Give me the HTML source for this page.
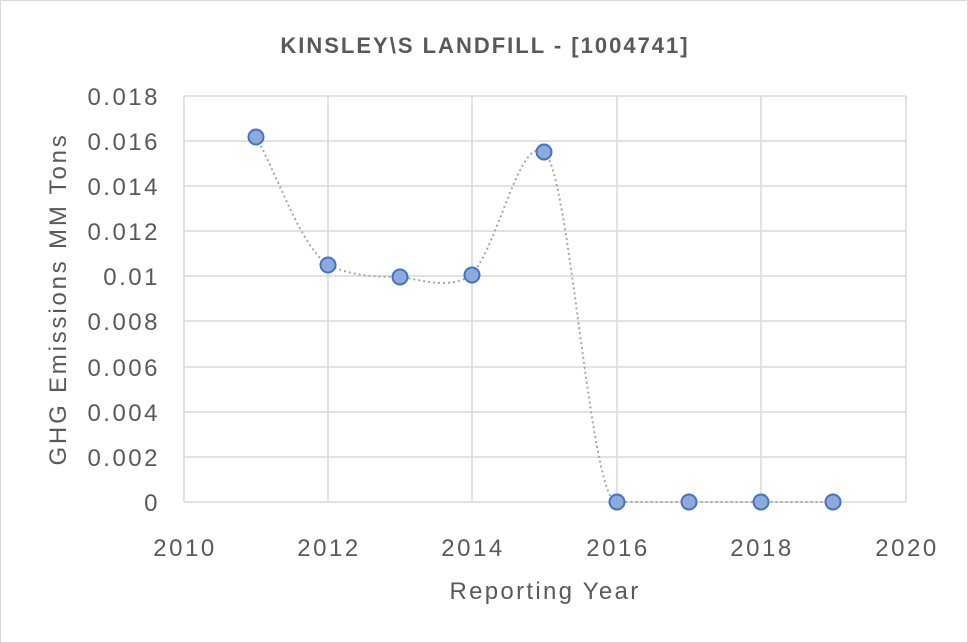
<!DOCTYPE html>
<html><head><meta charset="utf-8"><style>
body{margin:0;background:#fff}
svg{display:block}
text{font-family:"Liberation Sans",sans-serif;fill:#595959}
</style></head><body>
<svg width="968" height="643" viewBox="0 0 968 643">
<rect x="0.5" y="0.5" width="967" height="642" fill="#fff" stroke="#d9d9d9"/>
<text x="485" y="53" text-anchor="middle" font-size="22" font-weight="bold" letter-spacing="2">KINSLEY\S LANDFILL - [1004741]</text>
<g stroke="#d9d9d9" stroke-width="1.5">
<line x1="184" y1="96" x2="906" y2="96"/><line x1="184" y1="141" x2="906" y2="141"/>
<line x1="184" y1="186" x2="906" y2="186"/><line x1="184" y1="231" x2="906" y2="231"/>
<line x1="184" y1="276" x2="906" y2="276"/><line x1="184" y1="321" x2="906" y2="321"/>
<line x1="184" y1="367" x2="906" y2="367"/><line x1="184" y1="412" x2="906" y2="412"/>
<line x1="184" y1="457" x2="906" y2="457"/><line x1="184" y1="502" x2="906" y2="502"/>
<line x1="184" y1="96" x2="184" y2="502"/><line x1="328" y1="96" x2="328" y2="502"/>
<line x1="472" y1="96" x2="472" y2="502"/><line x1="617" y1="96" x2="617" y2="502"/>
<line x1="761" y1="96" x2="761" y2="502"/><line x1="906" y1="96" x2="906" y2="502"/>
</g>
<g font-size="24" text-anchor="end" letter-spacing="2.5">
<text x="160" y="105">0.018</text><text x="160" y="150">0.016</text><text x="160" y="195">0.014</text>
<text x="160" y="240">0.012</text><text x="160" y="285">0.01</text><text x="160" y="330">0.008</text>
<text x="160" y="376">0.006</text><text x="160" y="421">0.004</text><text x="160" y="466">0.002</text>
<text x="160" y="511">0</text>
</g>
<g font-size="24" text-anchor="middle" letter-spacing="2.5">
<text x="185" y="556">2010</text><text x="329" y="556">2012</text><text x="473" y="556">2014</text>
<text x="618" y="556">2016</text><text x="762" y="556">2018</text><text x="907" y="556">2020</text>
</g>
<text x="545" y="599" font-size="24" text-anchor="middle" letter-spacing="2.3">Reporting Year</text>
<text transform="translate(66,299) rotate(-90)" font-size="24" text-anchor="middle" letter-spacing="2.8">GHG Emissions MM Tons</text>
<path d="M256,137 C280,180 300,245 328,265 C352,276 376,277 400,277 C424,280 448,290 472,275 C500,240 520,135 544,152 C570,170 590,505 617,502 L833,502" fill="none" stroke="#a6a6a6" stroke-width="2" stroke-dasharray="2,3"/>
<g fill="#8eaadb" stroke="#4472c4" stroke-width="2">
<circle cx="256" cy="137" r="7.5"/><circle cx="328" cy="265" r="7.5"/><circle cx="400" cy="277" r="7.5"/>
<circle cx="472" cy="275" r="7.5"/><circle cx="544" cy="152" r="7.5"/><circle cx="617" cy="502" r="7.5"/>
<circle cx="689" cy="502" r="7.5"/><circle cx="761" cy="502" r="7.5"/><circle cx="833" cy="502" r="7.5"/>
</g>
</svg>
</body></html>
